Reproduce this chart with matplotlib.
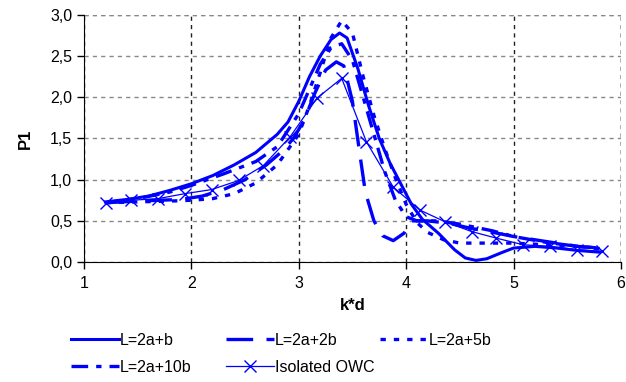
import matplotlib
matplotlib.use("Agg")
import matplotlib.pyplot as plt
from matplotlib.ticker import FuncFormatter

plt.rcParams['font.family'] = ['Liberation Sans', 'DejaVu Sans']

# L=2a+b (solid)
x_b = [1.2, 1.4, 1.6, 1.8, 2.0, 2.2, 2.4, 2.6, 2.8, 2.9, 3.0, 3.1, 3.2, 3.3, 3.38,
       3.45, 3.55, 3.65, 3.75, 3.85, 3.95, 4.05, 4.15, 4.3, 4.45, 4.55, 4.65, 4.75,
       4.9, 5.0, 5.2, 5.4, 5.6, 5.8]
y_b = [0.73, 0.76, 0.80, 0.87, 0.95, 1.05, 1.18, 1.33, 1.55, 1.70, 1.95, 2.25, 2.50,
       2.70, 2.78, 2.72, 2.35, 1.90, 1.50, 1.20, 0.95, 0.70, 0.52, 0.35, 0.15, 0.05,
       0.02, 0.04, 0.12, 0.17, 0.19, 0.17, 0.14, 0.12]

# L=2a+2b (long dash)
x_2b = [1.2, 1.5, 1.7, 1.9, 2.1, 2.3, 2.5, 2.7, 2.85, 2.95, 3.05, 3.15, 3.25, 3.35,
        3.42, 3.5, 3.57, 3.62, 3.7, 3.78, 3.88, 3.98, 4.05, 4.2, 4.4, 4.6, 4.85,
        5.0, 5.2, 5.4, 5.6, 5.8]
y_2b = [0.72, 0.74, 0.75, 0.76, 0.80, 0.88, 1.00, 1.18, 1.35, 1.50, 1.72, 2.05, 2.33,
        2.43, 2.38, 1.95, 1.30, 0.85, 0.50, 0.32, 0.26, 0.35, 0.50, 0.50, 0.47, 0.41,
        0.35, 0.31, 0.27, 0.23, 0.19, 0.17]

# L=2a+5b (dotted)
x_5b = [1.2, 1.5, 1.8, 2.0, 2.2, 2.4, 2.6, 2.8, 3.0, 3.1, 3.2, 3.3, 3.4, 3.5, 3.6,
        3.7, 3.8, 3.9, 4.0, 4.1, 4.2, 4.35, 4.5, 4.8, 5.0, 5.3, 5.6, 5.8]
y_5b = [0.72, 0.73, 0.74, 0.75, 0.77, 0.83, 0.96, 1.18, 1.55, 1.90, 2.30, 2.72, 2.93,
        2.78, 2.25, 1.78, 1.38, 1.02, 0.70, 0.48, 0.36, 0.27, 0.23, 0.23, 0.23, 0.21,
        0.19, 0.17]

# L=2a+10b (dash-dot)
x_10b = [1.2, 1.5, 1.8, 2.0, 2.3, 2.6, 2.8, 3.0, 3.1, 3.2, 3.3, 3.4, 3.5, 3.6, 3.7,
         3.8, 3.9, 4.0, 4.1, 4.3, 4.5, 4.8, 5.0, 5.3, 5.6, 5.8]
y_10b = [0.72, 0.77, 0.85, 0.93, 1.07, 1.22, 1.40, 1.80, 2.10, 2.40, 2.60, 2.65, 2.45,
         2.00, 1.55, 1.10, 0.75, 0.55, 0.50, 0.50, 0.46, 0.38, 0.31, 0.24, 0.19, 0.16]

# Isolated OWC
x_iso = [1.21, 1.44, 1.69, 1.94, 2.19, 2.44, 2.67, 2.92, 3.17, 3.40, 3.63, 3.88, 4.13,
         4.36, 4.61, 4.84, 5.09, 5.34, 5.59, 5.82]
y_iso = [0.72, 0.75, 0.77, 0.83, 0.88, 0.99, 1.17, 1.52, 1.99, 2.23, 1.46, 0.91, 0.63,
         0.49, 0.37, 0.29, 0.21, 0.19, 0.15, 0.13]

blue = '#0000ff'

fig = plt.figure(figsize=(6.26, 3.82), dpi=100)
ax = fig.add_axes([0.134, 0.314, 0.858, 0.647])

h_b, = ax.plot(x_b, y_b, color=blue, lw=2.2, label='L=2a+b')
h_2b, = ax.plot(x_2b, y_2b, color=blue, lw=2.4, dashes=(8.0, 4.0), label='L=2a+2b')
h_5b, = ax.plot(x_5b, y_5b, color=blue, lw=2.4, dashes=(1.6, 2.4), label='L=2a+5b')
h_10b, = ax.plot(x_10b, y_10b, color=blue, lw=2.4, dashes=(5.0, 2.4, 1.6, 2.4),
                 label='L=2a+10b')
h_iso, = ax.plot(x_iso, y_iso, color=blue, lw=0.9, marker='x', ms=9, mew=1.0,
                 label='Isolated OWC')

ax.set_xlim(1, 6)
ax.set_ylim(0, 3)
ax.set_xticks([1, 2, 3, 4, 5, 6])
ax.set_yticks([0, 0.5, 1.0, 1.5, 2.0, 2.5, 3.0])
ax.yaxis.set_major_formatter(FuncFormatter(lambda v, p: f"{v:.1f}".replace('.', ',')))
ax.tick_params(labelsize=11.5, length=5, width=1, direction='out')
ax.tick_params(axis='x', pad=5)

ax.grid(axis='y', color='#888888', linestyle=(0, (3, 3)), lw=1)
ax.grid(axis='x', color='#222222', linestyle=(0, (3, 3)), lw=1)
ax.set_axisbelow(True)
for s in ['top', 'right']:
    ax.spines[s].set_visible(False)
ax.axhline(3.0, color='#888888', linestyle=(0, (3, 3)), lw=1, zorder=0)
ax.axvline(6.0, color='#222222', linestyle=(0, (3, 3)), lw=1, zorder=0)

ax.set_xlabel('k*d', fontsize=12, fontweight='bold', labelpad=5)
ax.set_ylabel('P1', fontsize=12, fontweight='bold', labelpad=12)

# Excel-style legend with fixed column widths: one legend per column
columns = [([h_b, h_10b], 0.113), ([h_2b, h_iso], 0.361), ([h_5b], 0.607)]
for hs, xpos in columns:
    fig.legend(handles=hs, labels=[h.get_label() for h in hs],
               loc='upper left', bbox_to_anchor=(xpos, 0.129), frameon=False,
               fontsize=11.5, handlelength=3.0, handletextpad=0.05,
               borderpad=0, borderaxespad=0, labelspacing=0.75)

fig.savefig('out.png', dpi=100)
